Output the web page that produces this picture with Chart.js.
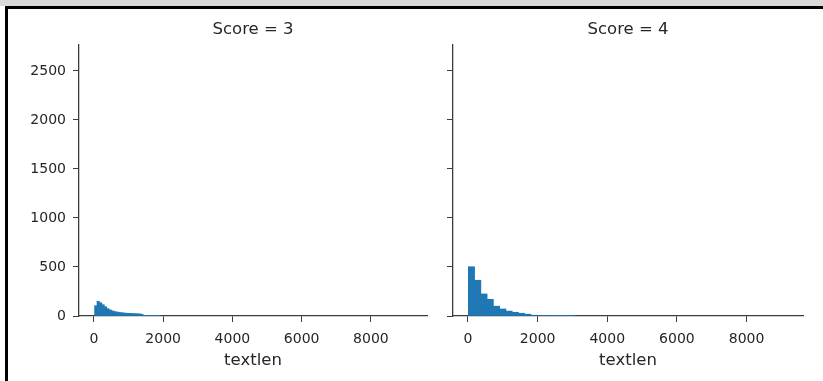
<!DOCTYPE html>
<html>
<head>
<meta charset="utf-8">
<script src="https://cdn.jsdelivr.net/npm/chart.js@4/dist/chart.umd.min.js"></script>
<style>
  html, body { margin:0; padding:0; background:#fff; }
  #wrap { position:relative; width:823px; height:381px; overflow:hidden; background:#fff; }
  canvas { position:absolute; left:0; top:0; }
  .bt { position:absolute; left:0; top:0; width:823px; height:6px; background:#d9d9d9; }
  .bk { position:absolute; left:5px; top:6px; width:818px; height:3px; background:#000; }
  .bl { position:absolute; left:5px; top:6px; width:3px; height:375px; background:#000; }
</style>
</head>
<body>
<div id="wrap">
  <canvas id="c1" width="823" height="381"></canvas>
  <canvas id="c2" width="823" height="381"></canvas>
  <div class="bt"></div><div class="bk"></div><div class="bl"></div>
</div>
<script>
// ---- data ----
const facetTitles = ["Score = 3", "Score = 4"];
const xLabel = "textlen";
const xTicks = [0, 2000, 4000, 6000, 8000];
const yTicks = [0, 500, 1000, 1500, 2000, 2500];

// Score = 3 : bin centres and counts
const score3Bins = [55, 125, 195, 265, 335, 405, 475, 545, 615, 685, 755, 825, 895, 965, 1035, 1105, 1175, 1245, 1315, 1385, 1455, 1525, 1595, 1665, 1735, 1805, 1875];
const score3Counts = [105, 150, 135, 115, 95, 75, 62, 52, 45, 40, 36, 33, 30, 28, 27, 26, 25, 24, 22, 18, 6, 4, 3, 2, 2, 1, 1];

// Score = 4 : bin centres and counts
const score4Bins = [100, 280, 460, 640, 820, 1000, 1180, 1360, 1540, 1720, 1900, 2080, 2260, 2440, 2620, 2800, 2980];
const score4Counts = [503, 365, 225, 170, 100, 72, 50, 38, 28, 18, 8, 5, 4, 3, 2, 1, 1];

const barColor = "#1f77b4";
const axisColor = "#3c3c3c";
const textColor = "#262626";
const FONT = "'DejaVu Sans', sans-serif";

const facetTitlePlugin = {
  id: 'facetTitle',
  afterDraw(chart, args, opts) {
    const ctx = chart.ctx, a = chart.chartArea;
    ctx.save();
    ctx.fillStyle = textColor;
    ctx.font = opts.size + "px " + FONT;
    ctx.textAlign = 'center';
    ctx.textBaseline = 'middle';
    ctx.fillText(opts.text, (a.left + a.right) / 2, opts.y);
    ctx.restore();
  }
};

function makeChart(id, bins, counts, title, padLeft, padRight, showYLabels) {
  const pts = bins.map((b, i) => ({ x: b, y: counts[i] }));
  return new Chart(document.getElementById(id), {
    type: 'bar',
    data: { datasets: [{ data: pts, backgroundColor: barColor, borderWidth: 0,
                         barPercentage: 1.0, categoryPercentage: 1.0 }] },
    plugins: [facetTitlePlugin],
    options: {
      responsive: false, animation: false,
      layout: { padding: { left: padLeft, right: padRight, top: 45, bottom: 0 } },
      plugins: { legend: { display: false }, tooltip: { enabled: false },
                 facetTitle: { text: title, y: 30, size: 16.5 } },
      scales: {
        x: {
          type: 'linear', min: -430, max: 9620, offset: false,
          afterBuildTicks: s => { s.ticks = xTicks.map(v => ({ value: v })); },
          afterFit: s => { s.height = 65; },
          grid: { offset: false, drawOnChartArea: false, drawTicks: true, tickLength: 6, color: axisColor, lineWidth: 1 },
          border: { display: true, color: axisColor, width: 1.3 },
          ticks: { color: textColor, font: { family: FONT, size: 14 }, padding: 9, maxRotation: 0, autoSkip: false,
                   callback: v => String(v) },
          title: { display: true, text: xLabel, color: textColor, font: { family: FONT, size: 16.5 }, padding: { top: 0, bottom: 10 } }
        },
        y: {
          type: 'linear', min: 0, max: 2765,
          afterBuildTicks: s => { s.ticks = yTicks.map(v => ({ value: v })); },
          afterFit: s => { s.width = showYLabels ? 79 : 10; },
          grid: { offset: false, drawOnChartArea: false, drawTicks: true, tickLength: 6, color: axisColor, lineWidth: 1 },
          border: { display: true, color: axisColor, width: 1.3 },
          ticks: { display: showYLabels, color: textColor, font: { family: FONT, size: 14 }, padding: 7,
                   callback: v => String(v) }
        }
      }
    }
  });
}

makeChart('c1', score3Bins, score3Counts, facetTitles[0], 0, 396, true);
makeChart('c2', score4Bins, score4Counts, facetTitles[1], 443, 20, false);
</script>
</body>
</html>
